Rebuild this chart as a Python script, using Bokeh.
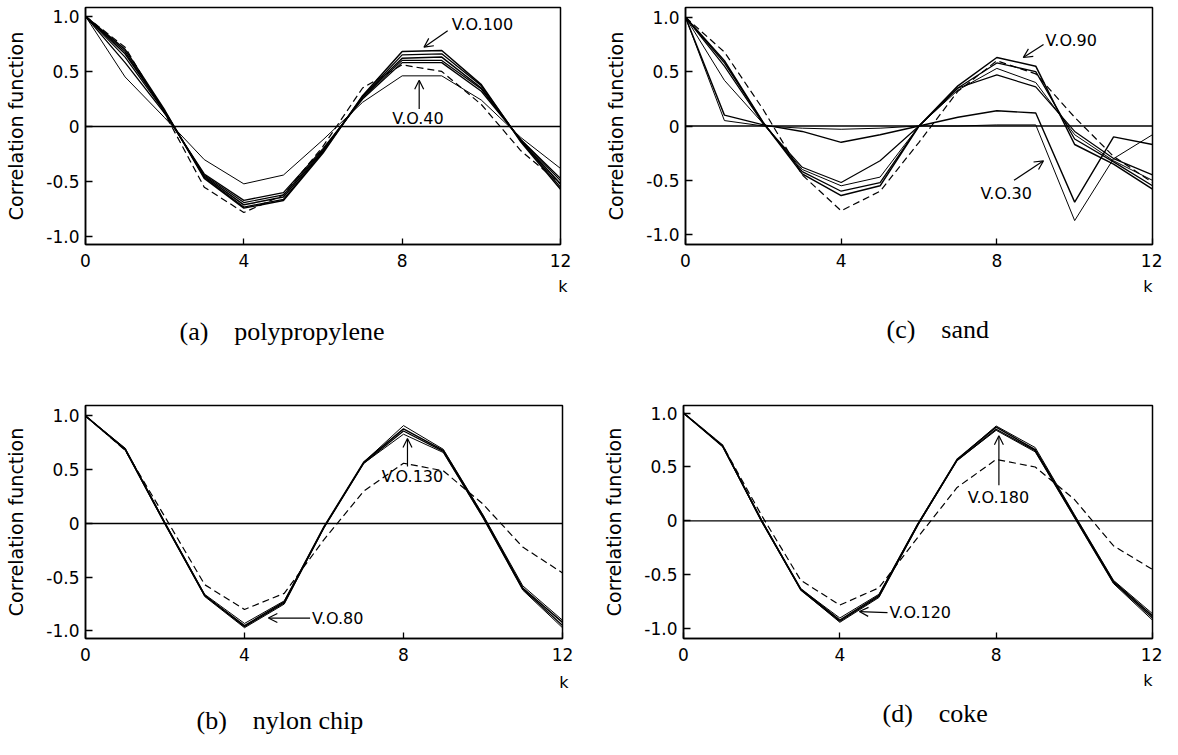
from bokeh.plotting import figure
from bokeh.layouts import row, column
from bokeh.models import Range1d, FixedTicker, Span, Label, Arrow, OpenHead, Title
from bokeh.embed import file_html
from bokeh.resources import INLINE

K = list(range(13))

# (a) polypropylene
a_dashed = [1.0, 0.72, 0.12, -0.55, -0.78, -0.62, -0.18, 0.35, 0.56, 0.50, 0.20, -0.22, -0.52]
a_s1 = [1.0, 0.45, 0.08, -0.30, -0.52, -0.44, -0.12, 0.22, 0.46, 0.46, 0.24, -0.10, -0.38]
a_s2 = [1.0, 0.58, 0.12, -0.43, -0.67, -0.60, -0.20, 0.25, 0.58, 0.58, 0.32, -0.12, -0.47]
a_s3 = [1.0, 0.63, 0.13, -0.44, -0.69, -0.62, -0.21, 0.26, 0.60, 0.60, 0.34, -0.12, -0.49]
a_s4 = [1.0, 0.66, 0.14, -0.45, -0.71, -0.64, -0.22, 0.27, 0.62, 0.63, 0.35, -0.13, -0.52]
a_s5 = [1.0, 0.68, 0.14, -0.46, -0.73, -0.66, -0.23, 0.27, 0.65, 0.66, 0.37, -0.13, -0.55]
a_s6 = [1.0, 0.70, 0.15, -0.47, -0.74, -0.67, -0.24, 0.28, 0.68, 0.69, 0.38, -0.14, -0.57]

# (c) sand
c_dashed = [1.0, 0.68, 0.15, -0.45, -0.78, -0.60, -0.15, 0.32, 0.60, 0.48, 0.08, -0.28, -0.52]
c_s1 = [1.0, 0.55, 0.02, -0.38, -0.52, -0.32, 0.00, 0.35, 0.47, 0.36, -0.05, -0.30, -0.45]
c_s2 = [1.0, 0.42, 0.02, -0.40, -0.55, -0.47, 0.00, 0.33, 0.53, 0.40, -0.08, -0.32, -0.50]
c_s3 = [1.0, 0.58, 0.03, -0.42, -0.60, -0.52, 0.00, 0.35, 0.58, 0.50, -0.12, -0.33, -0.55]
c_s4 = [1.0, 0.60, 0.03, -0.44, -0.64, -0.55, 0.00, 0.37, 0.63, 0.55, -0.17, -0.35, -0.58]
c_s5 = [1.0, 0.10, 0.01, -0.05, -0.15, -0.08, 0.00, 0.08, 0.14, 0.12, -0.70, -0.10, -0.17]
c_s6 = [1.0, 0.05, 0.00, -0.02, -0.03, -0.02, 0.00, 0.00, 0.01, 0.01, -0.87, -0.30, -0.08]

# (b) nylon chip
b_dashed = [1.0, 0.68, 0.06, -0.57, -0.80, -0.65, -0.15, 0.30, 0.56, 0.49, 0.18, -0.22, -0.46]
b_s1 = [1.0, 0.70, 0.01, -0.66, -0.93, -0.72, -0.03, 0.57, 0.91, 0.69, 0.08, -0.58, -0.90]
b_s2 = [1.0, 0.69, 0.00, -0.67, -0.95, -0.73, -0.03, 0.57, 0.88, 0.68, 0.07, -0.60, -0.92]
b_s3 = [1.0, 0.69, 0.00, -0.67, -0.96, -0.74, -0.04, 0.56, 0.86, 0.67, 0.06, -0.61, -0.95]
b_s4 = [1.0, 0.68, -0.01, -0.68, -0.97, -0.75, -0.04, 0.56, 0.83, 0.66, 0.05, -0.62, -0.97]

# (d) coke
d_dashed = [1.0, 0.70, 0.05, -0.55, -0.78, -0.62, -0.15, 0.31, 0.57, 0.50, 0.20, -0.23, -0.45]
d_s1 = [1.0, 0.70, 0.01, -0.63, -0.90, -0.68, -0.02, 0.57, 0.88, 0.68, 0.06, -0.55, -0.86]
d_s2 = [1.0, 0.70, 0.00, -0.63, -0.92, -0.69, -0.03, 0.57, 0.87, 0.66, 0.05, -0.56, -0.88]
d_s3 = [1.0, 0.69, 0.00, -0.64, -0.93, -0.70, -0.03, 0.56, 0.85, 0.65, 0.04, -0.57, -0.90]
d_s4 = [1.0, 0.69, -0.01, -0.64, -0.94, -0.71, -0.04, 0.56, 0.84, 0.64, 0.03, -0.58, -0.92]

y_ticks = [-1, -0.5, 0, 0.5, 1]
y_tick_labels = ["-1.0", "-0.5", "0", "0.5", "1.0"]
x_ticks = [0, 4, 8, 12]
x_tick_labels = ["0", "4", "8", "12"]

NB = "\u00a0"
captions = ["(a)" + NB * 4 + "polypropylene", "(c)" + NB * 4 + "sand",
            "(b)" + NB * 4 + "nylon chip", "(d)" + NB * 4 + "coke"]
y_label = "Correlation function"
notes_a = ["V.O.100", "V.O.40"]
notes_c = ["V.O.90", "V.O.30"]
notes_b = ["V.O.130", "V.O.80"]
notes_d = ["V.O.180", "V.O.120"]

SANS = "DejaVu Sans"
SERIF = "Liberation Serif"


def panel(width, height, mbl, mbr, mbt, mbb, ylo, yhi, solids, widths, dashed,
          notes, arrows, caption, cap_off, cap_standoff, k_off, k_standoff):
    p = figure(width=width, height=height, output_backend="svg", toolbar_location=None,
               x_range=Range1d(0, 12), y_range=Range1d(ylo, yhi),
               min_border_left=mbl, min_border_right=mbr,
               min_border_top=mbt, min_border_bottom=mbb)
    p.grid.visible = False
    p.outline_line_color = "black"
    p.outline_line_width = 1.5
    for ax in (p.xaxis[0], p.yaxis[0]):
        ax.axis_line_color = "black"
        ax.axis_line_width = 1.5
        ax.major_tick_line_color = "black"
        ax.major_tick_line_width = 1.3
        ax.major_tick_out = 0
        ax.minor_tick_line_color = None
        ax.major_label_text_font = SANS
        ax.major_label_text_font_size = "17px"
        ax.major_label_text_color = "black"
    p.yaxis.ticker = FixedTicker(ticks=y_ticks)
    p.yaxis.major_label_overrides = {t: s for t, s in zip(y_ticks, y_tick_labels)}
    p.yaxis.major_tick_in = 7
    p.yaxis.major_label_standoff = 6
    p.yaxis.axis_label = y_label
    p.yaxis.axis_label_text_font = SANS
    p.yaxis.axis_label_text_font_style = "normal"
    p.yaxis.axis_label_text_font_size = "19px"
    p.yaxis.axis_label_standoff = 16
    p.yaxis.axis_label_text_color = "black"
    p.xaxis.ticker = FixedTicker(ticks=x_ticks)
    p.xaxis.major_label_overrides = {t: s for t, s in zip(x_ticks, x_tick_labels)}
    p.xaxis.major_tick_in = 6
    p.xaxis.major_label_standoff = 9

    p.add_layout(Span(location=0, dimension="width", line_color="black", line_width=1.4))
    for ys, w in zip(solids, widths):
        p.line(K, ys, line_color="black", line_width=w)
    p.line(K, dashed, line_color="black", line_width=1.2, line_dash="7 4")

    for (txt, x, y) in notes:
        p.add_layout(Label(x=x, y=y, text=txt, text_font=SANS, text_font_size="16px",
                           text_align="left", text_baseline="middle", text_color="black"))
    for (x0, y0, x1, y1) in arrows:
        p.add_layout(Arrow(end=OpenHead(size=9, line_width=1.2, line_color="black"),
                           x_start=x0, y_start=y0, x_end=x1, y_end=y1,
                           line_width=1.2, line_color="black"))
    p.add_layout(Title(text="k", align="right", offset=k_off, standoff=k_standoff,
                       text_font=SANS, text_font_size="16px", text_font_style="normal",
                       text_color="black"), "below")
    p.add_layout(Title(text=caption, align="left", offset=cap_off, standoff=cap_standoff,
                       text_font=SERIF, text_font_size="26px", text_font_style="normal",
                       text_color="black"), "below")
    return p


pa = panel(587, 382, 85, 27, 5, 138, -1.07, 1.08,
           [a_s1, a_s2, a_s3, a_s4, a_s5, a_s6], [1.0, 1.3, 1.2, 1.5, 1.3, 1.5], a_dashed,
           [(notes_a[0], 9.25, 0.93), (notes_a[1], 7.75, 0.07)],
           [(9.15, 0.87, 8.55, 0.72), (8.43, 0.16, 8.43, 0.42)],
           captions[0], 94, 28, -7, 10)

pc = panel(575, 382, 98, 10, 7, 134, -1.09, 1.09,
           [c_s1, c_s2, c_s3, c_s4, c_s5, c_s6], [1.2, 1.0, 1.3, 1.5, 1.4, 1.0], c_dashed,
           [(notes_c[0], 9.25, 0.79), (notes_c[1], 7.58, -0.62)],
           [(9.2, 0.75, 8.68, 0.63), (8.44, -0.5, 9.2, -0.32)],
           captions[1], 201, 23, 0, 11)

pb = panel(587, 357, 85, 25, 16, 101, -1.07, 1.097,
           [b_s1, b_s2, b_s3, b_s4], [1.0, 1.5, 1.3, 1.0], b_dashed,
           [(notes_b[0], 7.45, 0.44), (notes_b[1], 5.7, -0.88)],
           [(8.1, 0.53, 8.1, 0.79), (5.65, -0.88, 4.6, -0.88)],
           captions[2], 111, 10, -6, 14)

pd_ = panel(575, 357, 96, 10, 23, 90, -1.09, 1.07,
            [d_s1, d_s2, d_s3, d_s4], [1.0, 1.5, 1.3, 1.0], d_dashed,
            [(notes_d[0], 7.27, 0.22), (notes_d[1], 5.27, -0.85)],
            [(8.07, 0.33, 8.07, 0.79), (5.22, -0.85, 4.5, -0.84)],
            captions[3], 199, 4, 0, 10)

layout = column(row(pa, pc), row(pb, pd_))
open("out.html", "w").write(file_html(layout, INLINE))
